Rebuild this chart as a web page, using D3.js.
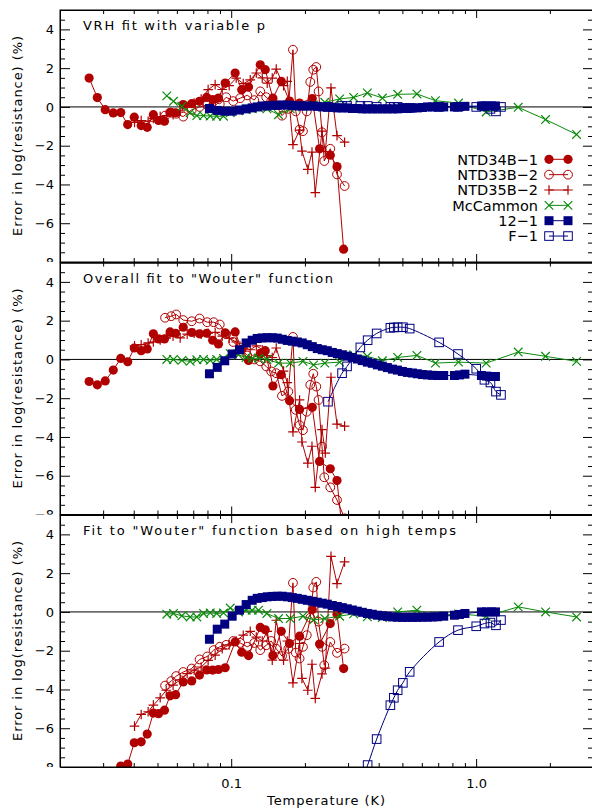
<!DOCTYPE html>
<html>
<head>
<meta charset="utf-8">
<script src="https://cdn.jsdelivr.net/npm/d3@7"></script>
<style>
  body { margin: 0; background: #fff; }
  svg { display: block; }
  text { font-family: "DejaVu Sans", sans-serif; fill: #000; }
</style>
</head>
<body>
<div id="chart"></div>
<script>
// ---- data: temperatures (K) and error in log(resistance) (%) per panel ----
const ntd34Temp = [0.0263, 0.0284, 0.0306, 0.0330, 0.0354, 0.0378, 0.0402, 0.0429, 0.0454, 0.0481, 0.0505, 0.0534, 0.0563, 0.0593, 0.0637, 0.0690, 0.0742, 0.0794, 0.0840, 0.0887, 0.0945, 0.1038, 0.1104, 0.1177, 0.1314, 0.1377, 0.1480, 0.1601, 0.1731, 0.1902, 0.2143, 0.2295, 0.2538, 0.2704, 0.2877];
const ntd34Vrh = [1.49, 0.48, -0.14, -0.31, -0.29, -0.91, -0.53, -0.96, -1.05, -0.40, -0.70, -0.74, -0.28, -0.30, 0.12, 0.17, 0.29, 0.49, 0.38, 0.46, 1.23, 1.75, 0.89, 1.03, 2.17, 1.92, 0.45, 1.32, 0.30, 0.20, 0.43, -2.16, -2.49, -3.08, -7.34];
const ntd34Overall = [-1.14, -1.31, -1.11, -0.55, 0.05, -0.12, 0.59, 0.45, 0.54, 1.32, 1.06, 1.06, 1.42, 1.35, 1.66, 1.39, 1.32, 1.35, 0.99, 0.80, 1.37, 1.42, 0.50, -0.05, 0.30, 0.45, -1.37, -0.79, -2.13, -2.58, -2.47, -5.26, -5.64, -6.25, -9.5];
const ntd34High = [-11.5, -10.8, -10.0, -8.8, -7.95, -7.85, -6.75, -6.70, -6.30, -5.22, -5.25, -5.07, -4.33, -4.27, -3.61, -3.56, -3.26, -2.99, -3.00, -2.97, -2.88, -1.55, -2.08, -2.25, -0.80, -0.92, -2.25, -1.00, -1.63, -1.25, 0.12, -1.66, -0.60, -0.12, -2.92];

const ntd33Temp = [0.0537, 0.0569, 0.0596, 0.0637, 0.0690, 0.0743, 0.0798, 0.0848, 0.0898, 0.0954, 0.1019, 0.1088, 0.1163, 0.1242, 0.1314, 0.1390, 0.1457, 0.1527, 0.1612, 0.1710, 0.1787, 0.1835, 0.1902, 0.1963, 0.2035, 0.2103, 0.2163, 0.2225, 0.2274, 0.2348, 0.2399, 0.2538, 0.2704, 0.2904];
const ntd33Vrh = [-0.45, -0.30, -0.35, -0.50, -0.15, 0.00, 0.10, 0.30, 0.15, 0.50, 0.30, 0.45, 0.60, 0.35, 0.80, 0.50, 0.30, 0.10, -0.45, -0.10, 2.95, -0.23, -1.17, -1.25, -0.23, 1.29, 1.92, 2.06, 0.80, -1.31, -2.79, -2.16, -3.48, -4.08];
const ntd33Overall = [2.15, 2.23, 2.32, 2.03, 1.97, 2.11, 1.92, 1.92, 1.80, 1.30, 0.90, 0.60, 0.20, 0.00, -0.10, -0.36, -0.62, -0.71, -1.88, -1.66, 1.16, -2.60, -3.39, -3.65, -2.70, -1.31, -0.74, -1.40, -2.09, -4.50, -6.08, -6.60, -7.25, -8.20];
const ntd33High = [-3.80, -3.57, -3.31, -3.10, -2.92, -2.45, -2.30, -1.97, -1.80, -1.70, -1.50, -1.60, -1.80, -1.60, -1.97, -1.72, -1.50, -1.90, -2.28, -1.90, 1.50, -2.10, -2.40, -1.80, -1.20, -0.30, 1.26, 1.55, -0.50, -1.80, -2.75, -1.55, -2.11, -1.89];

const ntd35Temp = [0.0403, 0.0429, 0.0458, 0.0481, 0.0513, 0.0543, 0.0579, 0.0619, 0.0661, 0.0706, 0.0754, 0.0805, 0.0860, 0.0919, 0.0981, 0.1048, 0.1120, 0.1196, 0.1266, 0.1339, 0.1403, 0.1471, 0.1527, 0.1636, 0.1694, 0.1787, 0.1902, 0.1945, 0.2054, 0.2137, 0.2204, 0.2348, 0.2422, 0.2555, 0.2704, 0.2904];
const ntd35Vrh = [-0.80, -0.70, -0.74, -0.60, -0.50, -0.45, -0.40, -0.20, 0.00, 0.20, 0.40, 0.89, 1.15, 0.90, 1.10, 1.49, 1.20, 1.40, 1.75, 1.50, 1.23, 1.49, 1.95, 1.10, 1.32, -1.94, -1.20, -2.28, -3.22, -2.33, -4.42, -1.25, -2.30, 0.98, -1.48, -1.82];
const ntd35Overall = [0.70, 0.76, 0.85, 0.90, 1.00, 1.10, 1.20, 1.11, 1.30, 1.35, 1.30, 1.35, 1.40, 1.20, 1.10, 0.90, 0.60, 0.50, 0.70, 0.50, 0.20, 0.10, 0.59, -0.60, -1.20, -3.74, -2.09, -4.26, -5.35, -4.48, -6.60, -3.62, -4.83, -0.92, -3.34, -3.44];
const ntd35High = [-5.89, -5.29, -5.15, -4.81, -4.43, -4.04, -3.78, -3.50, -3.18, -3.00, -2.84, -2.50, -2.23, -1.90, -1.70, -1.50, -1.20, -1.00, -1.30, -1.50, -1.00, -2.49, -0.43, -2.49, -1.50, -3.66, -1.63, -3.43, -4.04, -2.70, -4.46, -3.20, -2.90, 2.87, 1.46, 2.58];

const mccTemp = [0.0546, 0.0581, 0.0629, 0.0680, 0.0724, 0.0771, 0.0821, 0.0872, 0.0930, 0.0991, 0.1071, 0.1151, 0.1218, 0.1293, 0.1399, 0.1561, 0.1742, 0.1963, 0.2169, 0.2411, 0.2771, 0.3161, 0.3596, 0.4141, 0.4782, 0.573, 0.682, 0.847, 1.099, 1.485, 1.920, 2.570];
const mccVrh = [0.57, 0.29, 0.03, -0.30, -0.45, -0.45, -0.47, -0.48, -0.48, -0.30, -0.20, -0.14, -0.10, -0.05, -0.10, -0.40, -0.10, 0.00, 0.10, 0.24, 0.41, 0.49, 0.72, 0.46, 0.65, 0.67, 0.32, 0.20, -0.26, -0.02, -0.65, -1.42];
const mccOverall = [0.00, 0.00, -0.05, -0.10, -0.02, 0.00, -0.05, 0.00, 0.05, 0.30, 0.24, 0.10, 0.05, 0.07, 0.00, -0.19, -0.19, -0.10, -0.28, -0.19, -0.14, 0.24, 0.16, -0.07, 0.10, 0.21, -0.19, -0.14, -0.19, 0.38, 0.16, -0.10];
const mccHigh = [-0.12, -0.08, -0.20, -0.26, -0.26, -0.08, -0.05, -0.08, -0.05, 0.20, 0.00, 0.09, 0.09, 0.09, -0.08, -0.34, -0.34, -0.22, -0.41, -0.34, -0.22, -0.10, -0.25, -0.29, 0.00, 0.09, -0.20, -0.10, -0.22, 0.26, 0.00, -0.26];

const s12Temp = [0.0815, 0.0877, 0.0941, 0.1009, 0.1081, 0.1151, 0.1218, 0.1277, 0.1339, 0.1403, 0.1471, 0.1542, 0.1616, 0.1694, 0.1776, 0.1861, 0.1950, 0.2044, 0.2143, 0.2246, 0.2354, 0.2468, 0.2586, 0.2711, 0.2842, 0.2979, 0.3122, 0.3273, 0.3430, 0.3596, 0.3769, 0.3950, 0.4141, 0.4340, 0.4549, 0.4769, 0.4998, 0.5238, 0.5491, 0.5756, 0.6033, 0.6324, 0.6628, 0.6947, 0.7373, 0.8153, 0.8546, 0.9000, 1.051, 1.102, 1.155, 1.199];
const s12Vrh = [-0.08, -0.18, -0.22, -0.22, -0.16, -0.10, -0.05, 0.00, 0.05, 0.05, 0.08, 0.08, 0.10, 0.10, 0.08, 0.05, 0.05, 0.05, 0.05, 0.03, 0.00, 0.00, -0.02, -0.05, -0.05, -0.05, -0.08, -0.08, -0.10, -0.10, -0.10, -0.10, -0.10, -0.10, -0.10, -0.10, -0.08, -0.08, -0.05, -0.05, -0.03, 0.00, 0.00, 0.00, 0.00, 0.00, 0.02, 0.03, 0.05, 0.05, 0.05, 0.05];
const s12Overall = [-0.74, -0.41, -0.07, 0.28, 0.50, 0.85, 0.99, 1.08, 1.11, 1.12, 1.12, 1.10, 1.04, 0.98, 0.94, 0.90, 0.85, 0.76, 0.66, 0.56, 0.50, 0.45, 0.36, 0.30, 0.24, 0.17, 0.10, 0.02, -0.06, -0.14, -0.20, -0.28, -0.35, -0.42, -0.50, -0.55, -0.62, -0.67, -0.70, -0.74, -0.78, -0.80, -0.82, -0.83, -0.83, -0.83, -0.80, -0.76, -0.83, -0.86, -0.88, -0.88];
const s12High = [-1.41, -0.89, -0.63, -0.22, 0.09, 0.38, 0.60, 0.70, 0.74, 0.78, 0.80, 0.81, 0.81, 0.78, 0.74, 0.70, 0.65, 0.60, 0.55, 0.50, 0.45, 0.40, 0.33, 0.28, 0.22, 0.16, 0.10, 0.04, -0.02, -0.08, -0.12, -0.17, -0.20, -0.23, -0.26, -0.27, -0.28, -0.28, -0.28, -0.28, -0.27, -0.27, -0.26, -0.25, -0.22, -0.17, -0.13, -0.08, 0.00, 0.00, 0.00, 0.00];

const f1Temp = [0.2484, 0.2835, 0.2971, 0.3367, 0.3606, 0.3925, 0.4465, 0.4614, 0.4782, 0.5022, 0.5354, 0.706, 0.843, 1.001, 1.081, 1.144, 1.205, 1.263];
const f1Vrh = [0.00, 0.05, 0.05, 0.05, 0.05, 0.00, 0.00, 0.00, 0.00, -0.05, -0.05, 0.00, 0.00, 0.00, 0.03, -0.10, -0.23, 0.00];
const f1Overall = [-2.18, -0.71, -0.36, 0.62, 0.99, 1.34, 1.63, 1.65, 1.66, 1.66, 1.59, 0.88, 0.28, -0.48, -1.05, -1.19, -1.66, -1.83];
const f1High = [-12.0, -10.5, -10.0, -8.8, -7.90, -6.56, -4.81, -4.43, -4.04, -3.66, -3.09, -1.55, -0.94, -0.74, -0.60, -0.55, -0.69, -0.42];

const panelTitles = ["VRH fit with variable p", "Overall fit to \"Wouter\" function", "Fit to \"Wouter\" function based on high temps"];
const legendNames = ["NTD34B\u22121", "NTD33B\u22122", "NTD35B\u22122", "McCammon", "12\u22121", "F\u22121"];
const yMajorTicks = [-8, -6, -4, -2, 0, 2, 4];
const yMinorTicks = [-7.5, -7, -6.5, -5.5, -5, -4.5, -3.5, -3, -2.5, -1.5, -1, -0.5, 0.5, 1, 1.5, 2.5, 3, 3.5, 4.5];
const xMajorTicks = [0.1, 1];
const xMinorTicks = [0.02, 0.03, 0.04, 0.05, 0.06, 0.07, 0.08, 0.09, 0.2, 0.3, 0.4, 0.5, 0.6, 0.7, 0.8, 0.9, 2, 3];

const red = "#b00000", green = "#0a8a0a", navy = "#000080";

const series = [
    { name: legendNames[0], temp: ntd34Temp, vals: [ntd34Vrh, ntd34Overall, ntd34High], color: red, sym: "dot" },
    { name: legendNames[1], temp: ntd33Temp, vals: [ntd33Vrh, ntd33Overall, ntd33High], color: red, sym: "ring" },
    { name: legendNames[2], temp: ntd35Temp, vals: [ntd35Vrh, ntd35Overall, ntd35High], color: red, sym: "plus" },
    { name: legendNames[3], temp: mccTemp, vals: [mccVrh, mccOverall, mccHigh], color: green, sym: "cross" },
    { name: legendNames[4], temp: s12Temp, vals: [s12Vrh, s12Overall, s12High], color: navy, sym: "square" },
    { name: legendNames[5], temp: f1Temp, vals: [f1Vrh, f1Overall, f1High], color: navy, sym: "box", smooth: true }
];

// ---- layout ----
const W = 592, H = 809;
const left = 60, right = 593;
const panelTop = [10, 262.5, 515];
const panelH = 252;

const svg = d3.select("#chart")
    .append("svg")
    .attr("width", W)
    .attr("height", H);

const x = d3.scaleLog()
    .domain([0.02, 3])
    .range([left, right]);

// draw one marker into a group
function marker(g, sym, color) {
    if (sym === "dot") {
        g.append("circle").attr("r", 4.6).attr("fill", color);
    } else if (sym === "ring") {
        g.append("circle").attr("r", 4.4).attr("fill", "none").attr("stroke", color).attr("stroke-width", 1);
    } else if (sym === "plus") {
        g.append("path").attr("d", "M-4.8,0H4.8M0,-4.8V4.8").attr("stroke", color).attr("stroke-width", 1.2);
    } else if (sym === "cross") {
        g.append("path").attr("d", "M-4.3,-4.3L4.3,4.3M-4.3,4.3L4.3,-4.3").attr("stroke", color).attr("stroke-width", 1.2);
    } else if (sym === "square") {
        g.append("rect").attr("x", -4.5).attr("y", -4.5).attr("width", 9).attr("height", 9).attr("fill", color);
    } else if (sym === "box") {
        g.append("rect").attr("x", -4.3).attr("y", -4.3).attr("width", 8.6).attr("height", 8.6)
            .attr("fill", "none").attr("stroke", color).attr("stroke-width", 1);
    }
}

panelTop.forEach(function (top, p) {
    const bottom = top + panelH;
    const y = d3.scaleLinear()
        .domain([-8, 5])
        .range([bottom, top]);

    const panel = svg.append("g");

    svg.append("clipPath")
        .attr("id", "clip" + p)
        .append("rect")
        .attr("x", left)
        .attr("y", top)
        .attr("width", right - left)
        .attr("height", panelH);

    svg.append("clipPath")
        .attr("id", "band" + p)
        .append("rect")
        .attr("x", 0)
        .attr("y", top)
        .attr("width", W)
        .attr("height", panelH);

    // zero line
    panel.append("line")
        .attr("x1", left)
        .attr("x2", right)
        .attr("y1", y(0))
        .attr("y2", y(0))
        .attr("stroke", "#000")
        .attr("stroke-width", 1);

    // data
    const plot = panel.append("g").attr("clip-path", `url(#clip${p})`);
    series.forEach(function (s) {
        const pts = s.temp.map((t, i) => ({ t: t, v: s.vals[p][i] }));
        const line = d3.line()
            .x(d => x(d.t))
            .y(d => y(d.v))
            .curve(s.smooth ? d3.curveCatmullRom.alpha(0.5) : d3.curveLinear);
        plot.append("path")
            .datum(pts)
            .attr("fill", "none")
            .attr("stroke", s.color)
            .attr("stroke-width", 1)
            .attr("d", line);
        plot.selectAll(null)
            .data(pts)
            .enter()
            .append("g")
            .attr("transform", d => `translate(${x(d.t)},${y(d.v)})`)
            .each(function () { marker(d3.select(this), s.sym, s.color); });
    });

    // y axes
    const yl = panel.append("g").attr("clip-path", `url(#band${p})`);
    yl.append("g")
        .attr("transform", `translate(${left},0)`)
        .call(d3.axisLeft(y).tickValues(yMajorTicks).tickSizeInner(-10).tickSizeOuter(0).tickPadding(6))
        .call(g => g.selectAll("text").attr("font-size", 13).attr("font-family", "DejaVu Sans").attr("fill", "#000"));
    yl.append("g")
        .attr("transform", `translate(${left},0)`)
        .call(d3.axisLeft(y).tickValues(yMinorTicks).tickSizeInner(-5).tickSizeOuter(0).tickFormat(""));
    yl.append("g")
        .attr("transform", `translate(${right},0)`)
        .call(d3.axisRight(y).tickValues(yMajorTicks).tickSizeInner(-10).tickSizeOuter(0).tickFormat(""));
    yl.append("g")
        .attr("transform", `translate(${right},0)`)
        .call(d3.axisRight(y).tickValues(yMinorTicks).tickSizeInner(-5).tickSizeOuter(0).tickFormat(""));

    // x axes (ticks point inward on top and bottom)
    [[top, d3.axisBottom], [bottom, d3.axisTop]].forEach(function ([yy, ax]) {
        panel.append("g")
            .attr("transform", `translate(0,${yy})`)
            .call(ax(x).tickValues(xMajorTicks).tickSizeInner(8).tickSizeOuter(0).tickFormat(""));
        panel.append("g")
            .attr("transform", `translate(0,${yy})`)
            .call(ax(x).tickValues(xMinorTicks).tickSizeInner(4).tickSizeOuter(0).tickFormat(""));
    });

    panel.selectAll(".domain").attr("stroke", "#000");
    panel.selectAll(".tick line").attr("stroke", "#000");

    // frame
    panel.append("rect")
        .attr("x", left)
        .attr("y", top)
        .attr("width", right - left)
        .attr("height", panelH)
        .attr("fill", "none")
        .attr("stroke", "#000")
        .attr("stroke-width", 1);

    // panel title
    panel.append("text")
        .attr("x", 83)
        .attr("y", top + 20)
        .attr("font-size", 13)
        .attr("textLength", [182, 250, 373][p])
        .attr("lengthAdjust", "spacing")
        .text(panelTitles[p]);

    // y label
    panel.append("text")
        .attr("transform", `translate(22,${top + panelH / 2}) rotate(-90)`)
        .attr("text-anchor", "middle")
        .attr("font-size", 13)
        .attr("textLength", 200)
        .attr("lengthAdjust", "spacing")
        .text("Error in log(resistance) (%)");
});

// legend (top panel)
const legend = svg.append("g");
series.forEach(function (s, i) {
    const ly = 159.3 + i * 15.35;
    legend.append("text")
        .attr("x", 538)
        .attr("y", ly + 5.3)
        .attr("text-anchor", "end")
        .attr("font-size", 14.5)
        .text(s.name);
    legend.append("line")
        .attr("x1", 549).attr("x2", 568)
        .attr("y1", ly).attr("y2", ly)
        .attr("stroke", s.color)
        .attr("stroke-width", 1);
    [549, 568].forEach(function (mx) {
        marker(legend.append("g").attr("transform", `translate(${mx},${ly})`), s.sym, s.color);
    });
});

// x tick labels and title (bottom panel)
const xb = panelTop[2] + panelH;
svg.append("g")
    .attr("transform", `translate(0,${xb})`)
    .call(d3.axisBottom(x).tickValues(xMajorTicks).tickSize(0).tickPadding(12).tickFormat(d3.format(".1f")))
    .call(g => g.select(".domain").remove())
    .call(g => g.selectAll("text").attr("font-size", 13).attr("font-family", "DejaVu Sans").attr("fill", "#000"));

svg.append("text")
    .attr("x", 326)
    .attr("y", 805)
    .attr("text-anchor", "middle")
    .attr("font-size", 13)
    .attr("textLength", 118)
    .attr("lengthAdjust", "spacing")
    .text("Temperature (K)");
</script>
</body>
</html>
